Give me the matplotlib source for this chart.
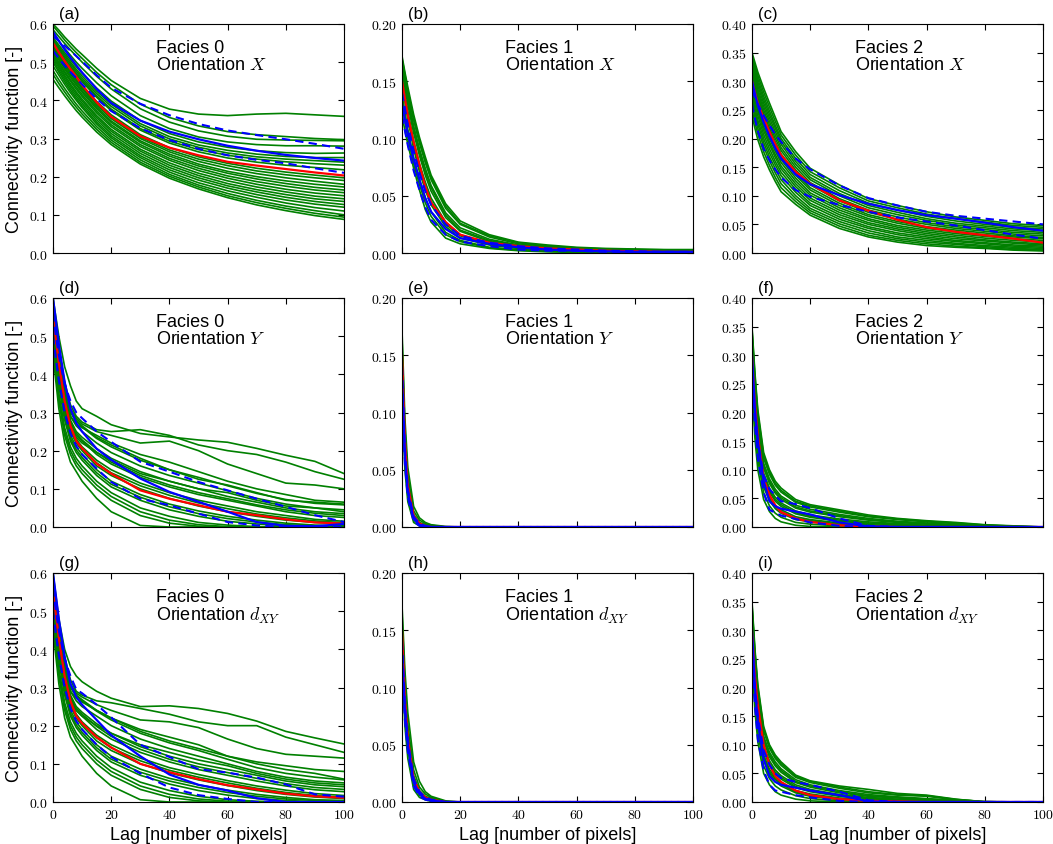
"""Connectivity functions of the facies, three orientations (3x3 panels)"""

import matplotlib
matplotlib.use("Agg")
import matplotlib.pyplot as plt
from matplotlib.ticker import FuncFormatter, MultipleLocator

plt.rcParams["font.family"] = ["Liberation Sans", "DejaVu Sans"]
plt.rcParams["mathtext.fontset"] = "cm"

# lag positions shared by every curve
LAGS = [0, 1, 2, 4, 6, 8, 10, 15, 20, 30, 40, 50, 60, 70, 80, 90, 100]

# ---- (a) Facies 0, X ----
GREEN_A = [
    [0.600, 0.592, 0.584, 0.566, 0.550, 0.534, 0.520, 0.484, 0.452, 0.405, 0.377, 0.364, 0.360, 0.364, 0.366, 0.362, 0.358],
    [0.595, 0.586, 0.577, 0.558, 0.541, 0.525, 0.510, 0.473, 0.441, 0.390, 0.355, 0.333, 0.318, 0.310, 0.305, 0.300, 0.297],
    [0.585, 0.576, 0.567, 0.549, 0.532, 0.516, 0.500, 0.463, 0.430, 0.378, 0.343, 0.320, 0.306, 0.298, 0.296, 0.295, 0.294],
    [0.575, 0.565, 0.555, 0.536, 0.518, 0.500, 0.484, 0.446, 0.412, 0.360, 0.326, 0.304, 0.291, 0.284, 0.281, 0.281, 0.280],
    [0.565, 0.555, 0.545, 0.525, 0.506, 0.488, 0.471, 0.432, 0.398, 0.347, 0.313, 0.291, 0.277, 0.268, 0.263, 0.261, 0.262],
    [0.562, 0.551, 0.540, 0.520, 0.500, 0.481, 0.464, 0.424, 0.390, 0.339, 0.305, 0.283, 0.269, 0.259, 0.253, 0.250, 0.250],
    [0.558, 0.547, 0.536, 0.515, 0.495, 0.476, 0.458, 0.418, 0.384, 0.333, 0.299, 0.277, 0.262, 0.252, 0.246, 0.242, 0.238],
    [0.553, 0.542, 0.531, 0.510, 0.490, 0.471, 0.453, 0.412, 0.377, 0.326, 0.293, 0.271, 0.256, 0.246, 0.239, 0.234, 0.230],
    [0.550, 0.539, 0.528, 0.506, 0.486, 0.467, 0.449, 0.408, 0.373, 0.322, 0.288, 0.265, 0.249, 0.238, 0.230, 0.224, 0.218],
    [0.545, 0.533, 0.521, 0.498, 0.477, 0.457, 0.439, 0.397, 0.362, 0.310, 0.276, 0.252, 0.235, 0.222, 0.212, 0.204, 0.197],
    [0.541, 0.529, 0.517, 0.494, 0.473, 0.453, 0.434, 0.391, 0.356, 0.304, 0.270, 0.246, 0.229, 0.215, 0.205, 0.197, 0.190],
    [0.538, 0.526, 0.514, 0.491, 0.469, 0.449, 0.430, 0.387, 0.352, 0.300, 0.265, 0.240, 0.222, 0.208, 0.197, 0.188, 0.180],
    [0.534, 0.522, 0.510, 0.486, 0.464, 0.444, 0.425, 0.382, 0.346, 0.294, 0.259, 0.233, 0.214, 0.200, 0.189, 0.180, 0.173],
    [0.530, 0.518, 0.506, 0.482, 0.460, 0.440, 0.421, 0.378, 0.342, 0.290, 0.254, 0.228, 0.209, 0.194, 0.182, 0.172, 0.165],
    [0.526, 0.513, 0.500, 0.476, 0.454, 0.434, 0.415, 0.372, 0.336, 0.284, 0.248, 0.222, 0.202, 0.187, 0.175, 0.165, 0.158],
    [0.522, 0.509, 0.496, 0.472, 0.450, 0.429, 0.410, 0.367, 0.331, 0.279, 0.243, 0.216, 0.196, 0.180, 0.167, 0.157, 0.150],
    [0.517, 0.504, 0.491, 0.466, 0.443, 0.422, 0.403, 0.360, 0.324, 0.272, 0.236, 0.209, 0.189, 0.173, 0.160, 0.149, 0.142],
    [0.512, 0.499, 0.486, 0.461, 0.438, 0.417, 0.398, 0.355, 0.319, 0.267, 0.230, 0.203, 0.182, 0.166, 0.153, 0.142, 0.135],
    [0.506, 0.493, 0.480, 0.455, 0.432, 0.411, 0.392, 0.349, 0.313, 0.261, 0.224, 0.197, 0.176, 0.160, 0.146, 0.135, 0.127],
    [0.500, 0.487, 0.474, 0.449, 0.426, 0.405, 0.386, 0.343, 0.307, 0.255, 0.218, 0.191, 0.170, 0.153, 0.139, 0.128, 0.120],
    [0.490, 0.478, 0.466, 0.442, 0.420, 0.400, 0.381, 0.338, 0.302, 0.250, 0.212, 0.184, 0.163, 0.146, 0.131, 0.119, 0.110],
    [0.478, 0.466, 0.454, 0.431, 0.410, 0.390, 0.372, 0.331, 0.296, 0.244, 0.206, 0.178, 0.156, 0.138, 0.123, 0.111, 0.100],
    [0.468, 0.456, 0.444, 0.422, 0.401, 0.382, 0.364, 0.324, 0.290, 0.238, 0.201, 0.173, 0.150, 0.132, 0.117, 0.104, 0.094],
    [0.455, 0.444, 0.433, 0.412, 0.392, 0.373, 0.356, 0.317, 0.284, 0.233, 0.196, 0.168, 0.145, 0.126, 0.111, 0.098, 0.088],
]
RED_A = [0.550, 0.538, 0.526, 0.503, 0.482, 0.462, 0.440, 0.395, 0.357, 0.306, 0.276, 0.256, 0.239, 0.229, 0.220, 0.211, 0.203]
BLUE_A = [0.580, 0.568, 0.556, 0.533, 0.512, 0.492, 0.473, 0.430, 0.393, 0.347, 0.318, 0.298, 0.281, 0.268, 0.257, 0.249, 0.242]
BLUE_HI_A = [0.568, 0.562, 0.556, 0.543, 0.530, 0.516, 0.502, 0.466, 0.433, 0.391, 0.361, 0.338, 0.321, 0.309, 0.298, 0.286, 0.273]
BLUE_LO_A = [0.530, 0.520, 0.510, 0.491, 0.474, 0.458, 0.442, 0.404, 0.372, 0.327, 0.296, 0.273, 0.256, 0.244, 0.235, 0.222, 0.210]

# ---- (b) Facies 1, X ----
GREEN_B = [
    [0.172, 0.158, 0.145, 0.121, 0.101, 0.084, 0.068, 0.043, 0.028, 0.016, 0.0095, 0.007, 0.005, 0.004, 0.0035, 0.003, 0.003],
    [0.170, 0.156, 0.142, 0.118, 0.098, 0.081, 0.066, 0.041, 0.026, 0.015, 0.009, 0.006, 0.0045, 0.0035, 0.003, 0.0028, 0.0025],
    [0.168, 0.154, 0.140, 0.116, 0.096, 0.079, 0.064, 0.039, 0.025, 0.014, 0.008, 0.006, 0.004, 0.003, 0.003, 0.0025, 0.002],
    [0.164, 0.150, 0.136, 0.111, 0.091, 0.074, 0.059, 0.035, 0.022, 0.012, 0.007, 0.005, 0.0035, 0.0025, 0.002, 0.002, 0.0015],
    [0.162, 0.147, 0.133, 0.108, 0.088, 0.071, 0.057, 0.033, 0.020, 0.011, 0.0065, 0.0045, 0.003, 0.002, 0.002, 0.0015, 0.0012],
    [0.160, 0.145, 0.130, 0.105, 0.085, 0.068, 0.054, 0.031, 0.019, 0.010, 0.006, 0.004, 0.003, 0.002, 0.0015, 0.0015, 0.001],
    [0.155, 0.139, 0.124, 0.098, 0.078, 0.062, 0.048, 0.027, 0.016, 0.008, 0.005, 0.003, 0.002, 0.0015, 0.001, 0.001, 0.001],
    [0.152, 0.136, 0.120, 0.094, 0.074, 0.058, 0.045, 0.025, 0.015, 0.0075, 0.0045, 0.003, 0.002, 0.0012, 0.001, 0.0008, 0.0008],
    [0.148, 0.132, 0.117, 0.091, 0.071, 0.055, 0.042, 0.023, 0.013, 0.007, 0.004, 0.0025, 0.0015, 0.001, 0.001, 0.0005, 0.0005],
    [0.138, 0.123, 0.108, 0.083, 0.064, 0.048, 0.036, 0.018, 0.011, 0.005, 0.003, 0.002, 0.001, 0.0005, 0.0005, 0.0, 0.0],
    [0.130, 0.115, 0.101, 0.078, 0.060, 0.044, 0.032, 0.016, 0.010, 0.0045, 0.0025, 0.0015, 0.0008, 0.0003, 0.0003, 0.0, 0.0],
    [0.120, 0.107, 0.095, 0.074, 0.055, 0.038, 0.027, 0.013, 0.008, 0.004, 0.002, 0.001, 0.0005, 0.0, 0.0, 0.0, 0.0],
]
RED_B = [0.150, 0.135, 0.120, 0.097, 0.077, 0.058, 0.044, 0.027, 0.016, 0.009, 0.006, 0.004, 0.003, 0.002, 0.0015, 0.001, 0.001]
BLUE_B = [0.130, 0.117, 0.104, 0.082, 0.064, 0.048, 0.036, 0.021, 0.013, 0.008, 0.005, 0.003, 0.002, 0.0015, 0.001, 0.001, 0.001]
BLUE_HI_B = [0.140, 0.126, 0.112, 0.089, 0.070, 0.054, 0.042, 0.025, 0.015, 0.009, 0.006, 0.004, 0.003, 0.002, 0.0015, 0.001, 0.001]
BLUE_LO_B = [0.120, 0.107, 0.094, 0.072, 0.055, 0.040, 0.029, 0.016, 0.010, 0.006, 0.003, 0.002, 0.002, 0.001, 0.001, 0.0005, 0.0005]

# ---- (c) Facies 2, X ----
GREEN_C = [
    [0.350, 0.333, 0.316, 0.288, 0.262, 0.237, 0.212, 0.177, 0.148, 0.119, 0.095, 0.083, 0.072, 0.063, 0.057, 0.051, 0.048],
    [0.345, 0.327, 0.310, 0.281, 0.255, 0.230, 0.206, 0.171, 0.142, 0.114, 0.091, 0.079, 0.068, 0.060, 0.054, 0.048, 0.045],
    [0.340, 0.322, 0.304, 0.274, 0.248, 0.223, 0.200, 0.165, 0.137, 0.109, 0.087, 0.075, 0.064, 0.056, 0.050, 0.045, 0.042],
    [0.335, 0.316, 0.298, 0.268, 0.242, 0.218, 0.195, 0.160, 0.132, 0.104, 0.083, 0.071, 0.060, 0.052, 0.047, 0.042, 0.039],
    [0.330, 0.311, 0.292, 0.262, 0.236, 0.212, 0.190, 0.155, 0.128, 0.100, 0.079, 0.067, 0.057, 0.049, 0.044, 0.039, 0.036],
    [0.325, 0.305, 0.286, 0.256, 0.230, 0.206, 0.184, 0.150, 0.123, 0.095, 0.075, 0.063, 0.053, 0.046, 0.041, 0.036, 0.033],
    [0.320, 0.300, 0.281, 0.250, 0.224, 0.200, 0.179, 0.145, 0.119, 0.091, 0.071, 0.059, 0.050, 0.043, 0.038, 0.033, 0.030],
    [0.315, 0.295, 0.275, 0.244, 0.218, 0.194, 0.173, 0.140, 0.114, 0.087, 0.067, 0.055, 0.046, 0.040, 0.035, 0.030, 0.027],
    [0.310, 0.290, 0.270, 0.238, 0.212, 0.189, 0.168, 0.136, 0.110, 0.083, 0.064, 0.052, 0.043, 0.037, 0.032, 0.028, 0.025],
    [0.305, 0.284, 0.264, 0.232, 0.206, 0.183, 0.163, 0.131, 0.105, 0.079, 0.060, 0.048, 0.040, 0.034, 0.029, 0.025, 0.022],
    [0.300, 0.279, 0.258, 0.226, 0.200, 0.178, 0.158, 0.126, 0.101, 0.075, 0.057, 0.045, 0.037, 0.031, 0.026, 0.022, 0.019],
    [0.295, 0.273, 0.252, 0.220, 0.194, 0.172, 0.152, 0.121, 0.096, 0.071, 0.053, 0.042, 0.034, 0.028, 0.023, 0.019, 0.016],
    [0.290, 0.268, 0.247, 0.214, 0.189, 0.167, 0.147, 0.116, 0.092, 0.067, 0.050, 0.039, 0.031, 0.025, 0.021, 0.017, 0.014],
    [0.282, 0.260, 0.240, 0.207, 0.182, 0.160, 0.141, 0.111, 0.087, 0.063, 0.046, 0.035, 0.028, 0.022, 0.018, 0.014, 0.012],
    [0.275, 0.253, 0.232, 0.200, 0.175, 0.154, 0.135, 0.106, 0.083, 0.059, 0.043, 0.032, 0.025, 0.020, 0.016, 0.012, 0.010],
    [0.268, 0.246, 0.225, 0.193, 0.168, 0.147, 0.128, 0.100, 0.078, 0.055, 0.039, 0.028, 0.022, 0.017, 0.013, 0.010, 0.008],
    [0.260, 0.238, 0.217, 0.186, 0.161, 0.140, 0.121, 0.095, 0.074, 0.051, 0.035, 0.025, 0.019, 0.015, 0.011, 0.008, 0.006],
    [0.250, 0.228, 0.208, 0.177, 0.153, 0.132, 0.114, 0.090, 0.070, 0.047, 0.031, 0.022, 0.016, 0.012, 0.009, 0.006, 0.005],
    [0.240, 0.218, 0.198, 0.168, 0.145, 0.125, 0.107, 0.085, 0.066, 0.043, 0.028, 0.019, 0.013, 0.010, 0.008, 0.005, 0.0035],
]
RED_C = [0.300, 0.280, 0.262, 0.235, 0.212, 0.190, 0.171, 0.142, 0.121, 0.092, 0.074, 0.058, 0.045, 0.037, 0.031, 0.025, 0.018]
BLUE_C = [0.300, 0.278, 0.258, 0.228, 0.204, 0.183, 0.165, 0.137, 0.120, 0.101, 0.086, 0.075, 0.066, 0.060, 0.053, 0.045, 0.039]
BLUE_HI_C = [0.285, 0.272, 0.260, 0.240, 0.223, 0.207, 0.194, 0.165, 0.146, 0.118, 0.096, 0.083, 0.072, 0.065, 0.060, 0.055, 0.050]
BLUE_LO_C = [0.260, 0.235, 0.213, 0.182, 0.162, 0.146, 0.132, 0.110, 0.098, 0.084, 0.072, 0.062, 0.055, 0.048, 0.040, 0.032, 0.025]

# ---- (d) Facies 0, Y ----
GREEN_D = [
    [0.600, 0.550, 0.500, 0.420, 0.370, 0.330, 0.310, 0.290, 0.268, 0.245, 0.236, 0.228, 0.222, 0.206, 0.188, 0.172, 0.140],
    [0.590, 0.530, 0.470, 0.380, 0.320, 0.290, 0.275, 0.255, 0.250, 0.255, 0.240, 0.215, 0.200, 0.190, 0.170, 0.145, 0.125],
    [0.580, 0.520, 0.460, 0.370, 0.310, 0.285, 0.270, 0.250, 0.240, 0.220, 0.225, 0.200, 0.165, 0.140, 0.115, 0.110, 0.100],
    [0.570, 0.500, 0.440, 0.350, 0.290, 0.270, 0.260, 0.240, 0.220, 0.190, 0.170, 0.145, 0.120, 0.100, 0.085, 0.070, 0.065],
    [0.570, 0.510, 0.450, 0.360, 0.300, 0.280, 0.265, 0.235, 0.215, 0.180, 0.150, 0.125, 0.110, 0.090, 0.070, 0.065, 0.060],
    [0.560, 0.500, 0.440, 0.355, 0.300, 0.278, 0.262, 0.232, 0.210, 0.175, 0.150, 0.130, 0.108, 0.088, 0.072, 0.062, 0.058],
    [0.560, 0.500, 0.440, 0.350, 0.290, 0.265, 0.250, 0.220, 0.195, 0.160, 0.135, 0.115, 0.095, 0.075, 0.060, 0.050, 0.045],
    [0.550, 0.490, 0.430, 0.340, 0.280, 0.250, 0.235, 0.205, 0.180, 0.145, 0.120, 0.100, 0.080, 0.065, 0.050, 0.040, 0.035],
    [0.545, 0.485, 0.425, 0.335, 0.275, 0.245, 0.228, 0.196, 0.170, 0.135, 0.110, 0.090, 0.074, 0.058, 0.045, 0.036, 0.030],
    [0.540, 0.480, 0.420, 0.330, 0.270, 0.240, 0.225, 0.190, 0.165, 0.130, 0.105, 0.085, 0.070, 0.055, 0.040, 0.030, 0.025],
    [0.530, 0.470, 0.410, 0.320, 0.260, 0.235, 0.220, 0.195, 0.175, 0.140, 0.120, 0.100, 0.090, 0.070, 0.055, 0.050, 0.040],
    [0.530, 0.470, 0.410, 0.320, 0.260, 0.230, 0.210, 0.175, 0.150, 0.115, 0.090, 0.070, 0.055, 0.040, 0.030, 0.020, 0.015],
    [0.525, 0.465, 0.405, 0.315, 0.255, 0.225, 0.205, 0.168, 0.142, 0.108, 0.083, 0.063, 0.048, 0.034, 0.024, 0.016, 0.011],
    [0.520, 0.460, 0.400, 0.310, 0.250, 0.220, 0.200, 0.160, 0.135, 0.100, 0.075, 0.055, 0.040, 0.028, 0.018, 0.012, 0.008],
    [0.510, 0.450, 0.390, 0.300, 0.240, 0.210, 0.190, 0.150, 0.120, 0.085, 0.060, 0.042, 0.028, 0.018, 0.010, 0.005, 0.003],
    [0.505, 0.445, 0.380, 0.290, 0.232, 0.202, 0.182, 0.142, 0.112, 0.078, 0.053, 0.035, 0.022, 0.013, 0.006, 0.003, 0.001],
    [0.500, 0.440, 0.370, 0.280, 0.225, 0.195, 0.175, 0.135, 0.105, 0.070, 0.045, 0.028, 0.015, 0.008, 0.003, 0.001, 0.000],
    [0.490, 0.420, 0.350, 0.260, 0.210, 0.180, 0.160, 0.120, 0.090, 0.050, 0.028, 0.012, 0.005, 0.001, 0.000, 0.000, 0.000],
    [0.480, 0.410, 0.340, 0.250, 0.200, 0.170, 0.150, 0.110, 0.080, 0.040, 0.018, 0.006, 0.001, 0.000, 0.000, 0.000, 0.000],
    [0.470, 0.400, 0.330, 0.240, 0.190, 0.160, 0.140, 0.100, 0.070, 0.030, 0.010, 0.002, 0.000, 0.000, 0.000, 0.000, 0.000],
    [0.450, 0.380, 0.310, 0.220, 0.170, 0.145, 0.120, 0.075, 0.040, 0.004, 0.000, 0.000, 0.000, 0.000, 0.000, 0.000, 0.000],
]
RED_D = [0.550, 0.490, 0.430, 0.330, 0.265, 0.225, 0.206, 0.166, 0.140, 0.096, 0.074, 0.057, 0.040, 0.031, 0.020, 0.012, 0.009]
BLUE_D = [0.600, 0.540, 0.480, 0.380, 0.310, 0.272, 0.250, 0.205, 0.176, 0.127, 0.092, 0.066, 0.040, 0.013, 0.003, 0.002, 0.008]
BLUE_HI_D = [0.560, 0.500, 0.450, 0.375, 0.330, 0.300, 0.285, 0.250, 0.223, 0.171, 0.145, 0.118, 0.096, 0.074, 0.053, 0.031, 0.013]
BLUE_LO_D = [0.500, 0.440, 0.385, 0.300, 0.245, 0.212, 0.190, 0.153, 0.118, 0.074, 0.057, 0.035, 0.013, 0.004, 0.000, 0.000, 0.000]

# ---- (e) Facies 1, Y ----
GREEN_E = [
    [0.172, 0.095, 0.052, 0.018, 0.008, 0.004, 0.002, 0.0005, 0, 0, 0, 0, 0, 0, 0, 0, 0],
    [0.165, 0.085, 0.045, 0.014, 0.006, 0.003, 0.0015, 0, 0, 0, 0, 0, 0, 0, 0, 0, 0],
    [0.155, 0.075, 0.038, 0.011, 0.004, 0.002, 0.001, 0, 0, 0, 0, 0, 0, 0, 0, 0, 0],
    [0.145, 0.066, 0.032, 0.008, 0.003, 0.001, 0.0005, 0, 0, 0, 0, 0, 0, 0, 0, 0, 0],
    [0.135, 0.058, 0.027, 0.006, 0.002, 0.0005, 0, 0, 0, 0, 0, 0, 0, 0, 0, 0, 0],
    [0.120, 0.050, 0.022, 0.004, 0.001, 0, 0, 0, 0, 0, 0, 0, 0, 0, 0, 0, 0],
]
RED_E = [0.150, 0.075, 0.036, 0.010, 0.003, 0.001, 0, 0, 0, 0, 0, 0, 0, 0, 0, 0, 0]
BLUE_E = [0.130, 0.062, 0.030, 0.007, 0.002, 0.0005, 0, 0, 0, 0, 0, 0, 0, 0, 0, 0, 0]
BLUE_HI_E = [0.140, 0.068, 0.033, 0.009, 0.003, 0.001, 0, 0, 0, 0, 0, 0, 0, 0, 0, 0, 0]
BLUE_LO_E = [0.120, 0.055, 0.026, 0.005, 0.001, 0, 0, 0, 0, 0, 0, 0, 0, 0, 0, 0, 0]

# ---- (f) Facies 2, Y ----
GREEN_F = [
    [0.350, 0.270, 0.205, 0.130, 0.100, 0.080, 0.068, 0.048, 0.039, 0.030, 0.021, 0.015, 0.011, 0.008, 0.004, 0.002, 0.0],
    [0.345, 0.264, 0.199, 0.125, 0.096, 0.076, 0.064, 0.045, 0.037, 0.028, 0.019, 0.014, 0.010, 0.007, 0.0035, 0.0015, 0.0],
    [0.340, 0.258, 0.193, 0.120, 0.092, 0.073, 0.061, 0.043, 0.035, 0.026, 0.018, 0.013, 0.009, 0.006, 0.003, 0.001, 0.0],
    [0.330, 0.246, 0.182, 0.111, 0.084, 0.066, 0.054, 0.038, 0.031, 0.022, 0.015, 0.010, 0.007, 0.004, 0.002, 0.001, 0.0],
    [0.325, 0.240, 0.176, 0.107, 0.080, 0.062, 0.051, 0.035, 0.028, 0.020, 0.013, 0.009, 0.006, 0.0035, 0.0015, 0.0005, 0.0],
    [0.320, 0.234, 0.171, 0.103, 0.076, 0.059, 0.048, 0.033, 0.026, 0.018, 0.012, 0.008, 0.005, 0.003, 0.001, 0.0, 0.0],
    [0.310, 0.222, 0.160, 0.094, 0.068, 0.052, 0.042, 0.028, 0.021, 0.014, 0.009, 0.006, 0.003, 0.002, 0.0, 0.0, 0.0],
    [0.305, 0.216, 0.155, 0.090, 0.064, 0.048, 0.039, 0.025, 0.019, 0.012, 0.007, 0.005, 0.0025, 0.0015, 0.0, 0.0, 0.0],
    [0.300, 0.210, 0.150, 0.086, 0.061, 0.045, 0.036, 0.023, 0.017, 0.010, 0.006, 0.004, 0.002, 0.001, 0.0, 0.0, 0.0],
    [0.290, 0.199, 0.140, 0.078, 0.053, 0.038, 0.030, 0.018, 0.013, 0.007, 0.004, 0.002, 0.001, 0.0, 0.0, 0.0, 0.0],
    [0.285, 0.193, 0.135, 0.074, 0.050, 0.035, 0.027, 0.015, 0.011, 0.005, 0.003, 0.0015, 0.0005, 0.0, 0.0, 0.0, 0.0],
    [0.280, 0.188, 0.130, 0.070, 0.046, 0.032, 0.024, 0.013, 0.009, 0.004, 0.002, 0.001, 0.0, 0.0, 0.0, 0.0, 0.0],
    [0.265, 0.172, 0.117, 0.060, 0.037, 0.024, 0.017, 0.008, 0.005, 0.002, 0.0, 0.0, 0.0, 0.0, 0.0, 0.0, 0.0],
    [0.250, 0.155, 0.100, 0.048, 0.027, 0.015, 0.009, 0.003, 0.001, 0.0, 0.0, 0.0, 0.0, 0.0, 0.0, 0.0, 0.0],
]
RED_F = [0.300, 0.215, 0.160, 0.085, 0.056, 0.038, 0.026, 0.015, 0.009, 0.003, 0.001, 0, 0, 0, 0, 0, 0]
BLUE_F = [0.300, 0.205, 0.150, 0.080, 0.045, 0.036, 0.032, 0.027, 0.022, 0.008, 0.001, 0, 0, 0, 0, 0, 0]
BLUE_HI_F = [0.280, 0.200, 0.150, 0.090, 0.066, 0.055, 0.045, 0.040, 0.033, 0.015, 0.002, 0, 0, 0, 0, 0, 0]
BLUE_LO_F = [0.270, 0.180, 0.120, 0.060, 0.030, 0.025, 0.020, 0.014, 0.008, 0.002, 0, 0, 0, 0, 0, 0, 0]

# ---- (g) Facies 0, dXY ----
GREEN_G = [
    [0.600, 0.540, 0.480, 0.400, 0.355, 0.330, 0.315, 0.290, 0.272, 0.250, 0.252, 0.245, 0.232, 0.212, 0.185, 0.168, 0.152],
    [0.590, 0.530, 0.470, 0.380, 0.320, 0.290, 0.280, 0.265, 0.260, 0.245, 0.230, 0.210, 0.200, 0.200, 0.170, 0.150, 0.130],
    [0.580, 0.520, 0.460, 0.370, 0.310, 0.285, 0.275, 0.255, 0.240, 0.215, 0.210, 0.195, 0.165, 0.140, 0.125, 0.120, 0.115],
    [0.570, 0.510, 0.450, 0.360, 0.300, 0.280, 0.268, 0.240, 0.220, 0.185, 0.160, 0.140, 0.120, 0.105, 0.095, 0.085, 0.080],
    [0.570, 0.500, 0.440, 0.350, 0.290, 0.272, 0.262, 0.240, 0.220, 0.190, 0.170, 0.150, 0.120, 0.100, 0.085, 0.075, 0.060],
    [0.560, 0.500, 0.440, 0.355, 0.300, 0.278, 0.265, 0.238, 0.215, 0.180, 0.155, 0.135, 0.112, 0.090, 0.075, 0.065, 0.058],
    [0.560, 0.500, 0.440, 0.350, 0.290, 0.265, 0.250, 0.225, 0.200, 0.165, 0.140, 0.120, 0.100, 0.080, 0.065, 0.055, 0.050],
    [0.550, 0.490, 0.430, 0.340, 0.280, 0.250, 0.235, 0.205, 0.180, 0.145, 0.120, 0.100, 0.085, 0.070, 0.055, 0.045, 0.040],
    [0.545, 0.485, 0.425, 0.335, 0.275, 0.245, 0.230, 0.198, 0.172, 0.138, 0.112, 0.092, 0.077, 0.062, 0.048, 0.038, 0.033],
    [0.540, 0.480, 0.420, 0.330, 0.270, 0.240, 0.225, 0.190, 0.165, 0.130, 0.105, 0.085, 0.070, 0.055, 0.042, 0.032, 0.027],
    [0.530, 0.470, 0.410, 0.320, 0.260, 0.240, 0.225, 0.200, 0.180, 0.150, 0.130, 0.110, 0.095, 0.075, 0.060, 0.050, 0.045],
    [0.530, 0.470, 0.410, 0.320, 0.260, 0.230, 0.210, 0.175, 0.150, 0.115, 0.090, 0.072, 0.056, 0.042, 0.031, 0.022, 0.017],
    [0.525, 0.465, 0.405, 0.315, 0.255, 0.225, 0.205, 0.168, 0.142, 0.108, 0.083, 0.065, 0.050, 0.036, 0.025, 0.017, 0.012],
    [0.520, 0.460, 0.400, 0.310, 0.250, 0.220, 0.200, 0.160, 0.135, 0.100, 0.076, 0.058, 0.043, 0.030, 0.020, 0.013, 0.009],
    [0.510, 0.450, 0.390, 0.300, 0.240, 0.210, 0.190, 0.150, 0.120, 0.086, 0.062, 0.045, 0.031, 0.020, 0.012, 0.006, 0.004],
    [0.505, 0.445, 0.380, 0.290, 0.232, 0.202, 0.182, 0.142, 0.112, 0.078, 0.055, 0.038, 0.025, 0.015, 0.008, 0.004, 0.002],
    [0.500, 0.440, 0.370, 0.280, 0.225, 0.195, 0.175, 0.135, 0.105, 0.070, 0.047, 0.030, 0.018, 0.009, 0.004, 0.001, 0.000],
    [0.490, 0.420, 0.350, 0.260, 0.210, 0.180, 0.160, 0.120, 0.090, 0.052, 0.030, 0.015, 0.006, 0.002, 0.000, 0.000, 0.000],
    [0.480, 0.410, 0.340, 0.250, 0.200, 0.170, 0.150, 0.110, 0.080, 0.042, 0.020, 0.008, 0.002, 0.000, 0.000, 0.000, 0.000],
    [0.470, 0.400, 0.330, 0.240, 0.190, 0.160, 0.140, 0.100, 0.070, 0.033, 0.012, 0.003, 0.000, 0.000, 0.000, 0.000, 0.000],
    [0.450, 0.380, 0.310, 0.220, 0.170, 0.145, 0.120, 0.075, 0.042, 0.006, 0.000, 0.000, 0.000, 0.000, 0.000, 0.000, 0.000],
]
RED_G = [0.550, 0.490, 0.430, 0.330, 0.265, 0.225, 0.206, 0.170, 0.143, 0.100, 0.078, 0.060, 0.044, 0.033, 0.022, 0.015, 0.011]
BLUE_G = [0.600, 0.540, 0.480, 0.380, 0.310, 0.275, 0.255, 0.215, 0.175, 0.120, 0.072, 0.045, 0.030, 0.010, 0.000, 0.000, 0.000]
BLUE_HI_G = [0.560, 0.500, 0.450, 0.375, 0.330, 0.295, 0.285, 0.255, 0.222, 0.150, 0.118, 0.086, 0.077, 0.064, 0.046, 0.020, 0.014]
BLUE_LO_G = [0.500, 0.440, 0.385, 0.300, 0.245, 0.212, 0.190, 0.150, 0.118, 0.075, 0.038, 0.018, 0.008, 0.000, 0.000, 0.000, 0.000]

# ---- (h) Facies 1, dXY ----
GREEN_H = [
    [0.172, 0.115, 0.078, 0.035, 0.018, 0.009, 0.005, 0.001, 0, 0, 0, 0, 0, 0, 0, 0, 0],
    [0.165, 0.105, 0.068, 0.028, 0.013, 0.007, 0.004, 0.0005, 0, 0, 0, 0, 0, 0, 0, 0, 0],
    [0.155, 0.095, 0.060, 0.023, 0.010, 0.005, 0.003, 0, 0, 0, 0, 0, 0, 0, 0, 0, 0],
    [0.145, 0.086, 0.053, 0.018, 0.008, 0.004, 0.002, 0, 0, 0, 0, 0, 0, 0, 0, 0, 0],
    [0.135, 0.077, 0.046, 0.014, 0.006, 0.003, 0.001, 0, 0, 0, 0, 0, 0, 0, 0, 0, 0],
    [0.120, 0.066, 0.038, 0.011, 0.004, 0.002, 0.0005, 0, 0, 0, 0, 0, 0, 0, 0, 0, 0],
]
RED_H = [0.150, 0.090, 0.056, 0.020, 0.009, 0.004, 0.002, 0, 0, 0, 0, 0, 0, 0, 0, 0, 0]
BLUE_H = [0.130, 0.080, 0.050, 0.017, 0.007, 0.003, 0.001, 0, 0, 0, 0, 0, 0, 0, 0, 0, 0]
BLUE_HI_H = [0.140, 0.085, 0.054, 0.020, 0.009, 0.004, 0.002, 0, 0, 0, 0, 0, 0, 0, 0, 0, 0]
BLUE_LO_H = [0.120, 0.072, 0.044, 0.014, 0.005, 0.002, 0.001, 0, 0, 0, 0, 0, 0, 0, 0, 0, 0]

# ---- (i) Facies 2, dXY ----
GREEN_I = [
    [0.350, 0.268, 0.205, 0.132, 0.100, 0.082, 0.070, 0.047, 0.037, 0.028, 0.022, 0.015, 0.012, 0.005, 0.0, 0.0, 0.0],
    [0.345, 0.263, 0.200, 0.128, 0.097, 0.079, 0.067, 0.045, 0.036, 0.026, 0.018, 0.013, 0.011, 0.0045, 0.0005, 0.0, 0.0],
    [0.340, 0.258, 0.195, 0.124, 0.094, 0.076, 0.064, 0.043, 0.034, 0.024, 0.016, 0.012, 0.010, 0.004, 0.001, 0.0, 0.0],
    [0.330, 0.247, 0.185, 0.115, 0.087, 0.070, 0.058, 0.039, 0.030, 0.020, 0.013, 0.009, 0.006, 0.003, 0.0, 0.0, 0.0],
    [0.325, 0.241, 0.180, 0.111, 0.083, 0.066, 0.055, 0.036, 0.028, 0.018, 0.011, 0.008, 0.005, 0.0025, 0.0, 0.0, 0.0],
    [0.320, 0.236, 0.175, 0.107, 0.079, 0.063, 0.052, 0.034, 0.026, 0.016, 0.010, 0.007, 0.004, 0.002, 0.0, 0.0, 0.0],
    [0.310, 0.225, 0.165, 0.098, 0.072, 0.056, 0.046, 0.030, 0.022, 0.013, 0.008, 0.005, 0.003, 0.001, 0.0, 0.0, 0.0],
    [0.305, 0.219, 0.160, 0.094, 0.068, 0.052, 0.043, 0.027, 0.020, 0.011, 0.007, 0.004, 0.0025, 0.0005, 0.0, 0.0, 0.0],
    [0.300, 0.214, 0.155, 0.090, 0.064, 0.049, 0.040, 0.025, 0.018, 0.010, 0.006, 0.003, 0.002, 0.0, 0.0, 0.0, 0.0],
    [0.290, 0.203, 0.145, 0.082, 0.057, 0.043, 0.034, 0.020, 0.014, 0.007, 0.004, 0.002, 0.001, 0.0, 0.0, 0.0, 0.0],
    [0.285, 0.197, 0.140, 0.078, 0.053, 0.040, 0.031, 0.018, 0.012, 0.005, 0.003, 0.0015, 0.0005, 0.0, 0.0, 0.0, 0.0],
    [0.280, 0.192, 0.135, 0.074, 0.050, 0.036, 0.028, 0.016, 0.010, 0.004, 0.002, 0.001, 0.0, 0.0, 0.0, 0.0, 0.0],
    [0.265, 0.176, 0.121, 0.063, 0.041, 0.028, 0.021, 0.011, 0.006, 0.002, 0.0, 0.0, 0.0, 0.0, 0.0, 0.0, 0.0],
    [0.250, 0.160, 0.105, 0.050, 0.030, 0.018, 0.012, 0.005, 0.002, 0.0, 0.0, 0.0, 0.0, 0.0, 0.0, 0.0, 0.0],
]
RED_I = [0.300, 0.220, 0.170, 0.100, 0.065, 0.045, 0.035, 0.020, 0.012, 0.005, 0.002, 0.001, 0, 0, 0, 0, 0]
BLUE_I = [0.300, 0.200, 0.140, 0.075, 0.045, 0.035, 0.030, 0.025, 0.020, 0.012, 0.001, 0, 0, 0, 0, 0, 0]
BLUE_HI_I = [0.280, 0.200, 0.150, 0.090, 0.065, 0.050, 0.042, 0.035, 0.030, 0.018, 0.003, 0, 0, 0, 0, 0, 0]
BLUE_LO_I = [0.260, 0.170, 0.110, 0.055, 0.030, 0.020, 0.018, 0.012, 0.008, 0.002, 0, 0, 0, 0, 0, 0, 0]

ORIENT = ["$X$", "$Y$", "$d_{XY}$"]
YMAX = [0.6, 0.2, 0.4]
YSTEP = [0.1, 0.05, 0.05]
YFMT = ["%.1f", "%.2f", "%.2f"]

PANELS = [
    [(GREEN_A, RED_A, BLUE_A, BLUE_HI_A, BLUE_LO_A),
     (GREEN_B, RED_B, BLUE_B, BLUE_HI_B, BLUE_LO_B),
     (GREEN_C, RED_C, BLUE_C, BLUE_HI_C, BLUE_LO_C)],
    [(GREEN_D, RED_D, BLUE_D, BLUE_HI_D, BLUE_LO_D),
     (GREEN_E, RED_E, BLUE_E, BLUE_HI_E, BLUE_LO_E),
     (GREEN_F, RED_F, BLUE_F, BLUE_HI_F, BLUE_LO_F)],
    [(GREEN_G, RED_G, BLUE_G, BLUE_HI_G, BLUE_LO_G),
     (GREEN_H, RED_H, BLUE_H, BLUE_HI_H, BLUE_LO_H),
     (GREEN_I, RED_I, BLUE_I, BLUE_HI_I, BLUE_LO_I)],
]

W, H = 1053, 845
fig = plt.figure(figsize=(W / 100, H / 100), dpi=100)
lefts = [53, 402, 752]
bottoms = [254, 528, 803]
aw, ah = 291, 229

letters = "abcdefghi"
for r in range(3):
    for c in range(3):
        ax = fig.add_axes([lefts[c] / W, 1 - bottoms[r] / H, aw / W, ah / H])
        green, red, blue, blue_hi, blue_lo = PANELS[r][c]
        for g in green:
            ax.plot(LAGS, g, color="green", lw=1.2)
        ax.plot(LAGS, red, color="red", lw=1.6)
        ax.plot(LAGS, blue, color="blue", lw=1.6)
        ax.plot(LAGS, blue_hi, color="blue", lw=1.5, ls=(0, (4, 2.5)))
        ax.plot(LAGS, blue_lo, color="blue", lw=1.5, ls=(0, (4, 2.5)))

        ax.set_xlim(0, 100)
        ax.set_ylim(0, YMAX[c])
        ax.xaxis.set_major_locator(MultipleLocator(20))
        ax.yaxis.set_major_locator(MultipleLocator(YSTEP[c]))
        fmt = YFMT[c]
        ax.yaxis.set_major_formatter(FuncFormatter(lambda v, p, f=fmt: "$" + f % v + "$"))
        if r == 2:
            ax.xaxis.set_major_formatter(FuncFormatter(lambda v, p: "$%d$" % v))
            ax.set_xlabel("Lag [number of pixels]", fontsize=13)
        else:
            ax.set_xticklabels([])
        if c == 0:
            ax.set_ylabel("Connectivity function [-]", fontsize=13)
        ax.tick_params(direction="in", top=True, right=True, length=4, labelsize=10)

        ax.text(0.355, 0.935, "Facies %d\nOrientation %s" % (c, ORIENT[r]),
                transform=ax.transAxes, fontsize=13, va="top", ha="left", linespacing=1.0)
        ax.text(0.02, 1.012, "(%s)" % letters[r * 3 + c], transform=ax.transAxes,
                fontsize=12, va="bottom", ha="left")

fig.savefig("out.png", dpi=100)
